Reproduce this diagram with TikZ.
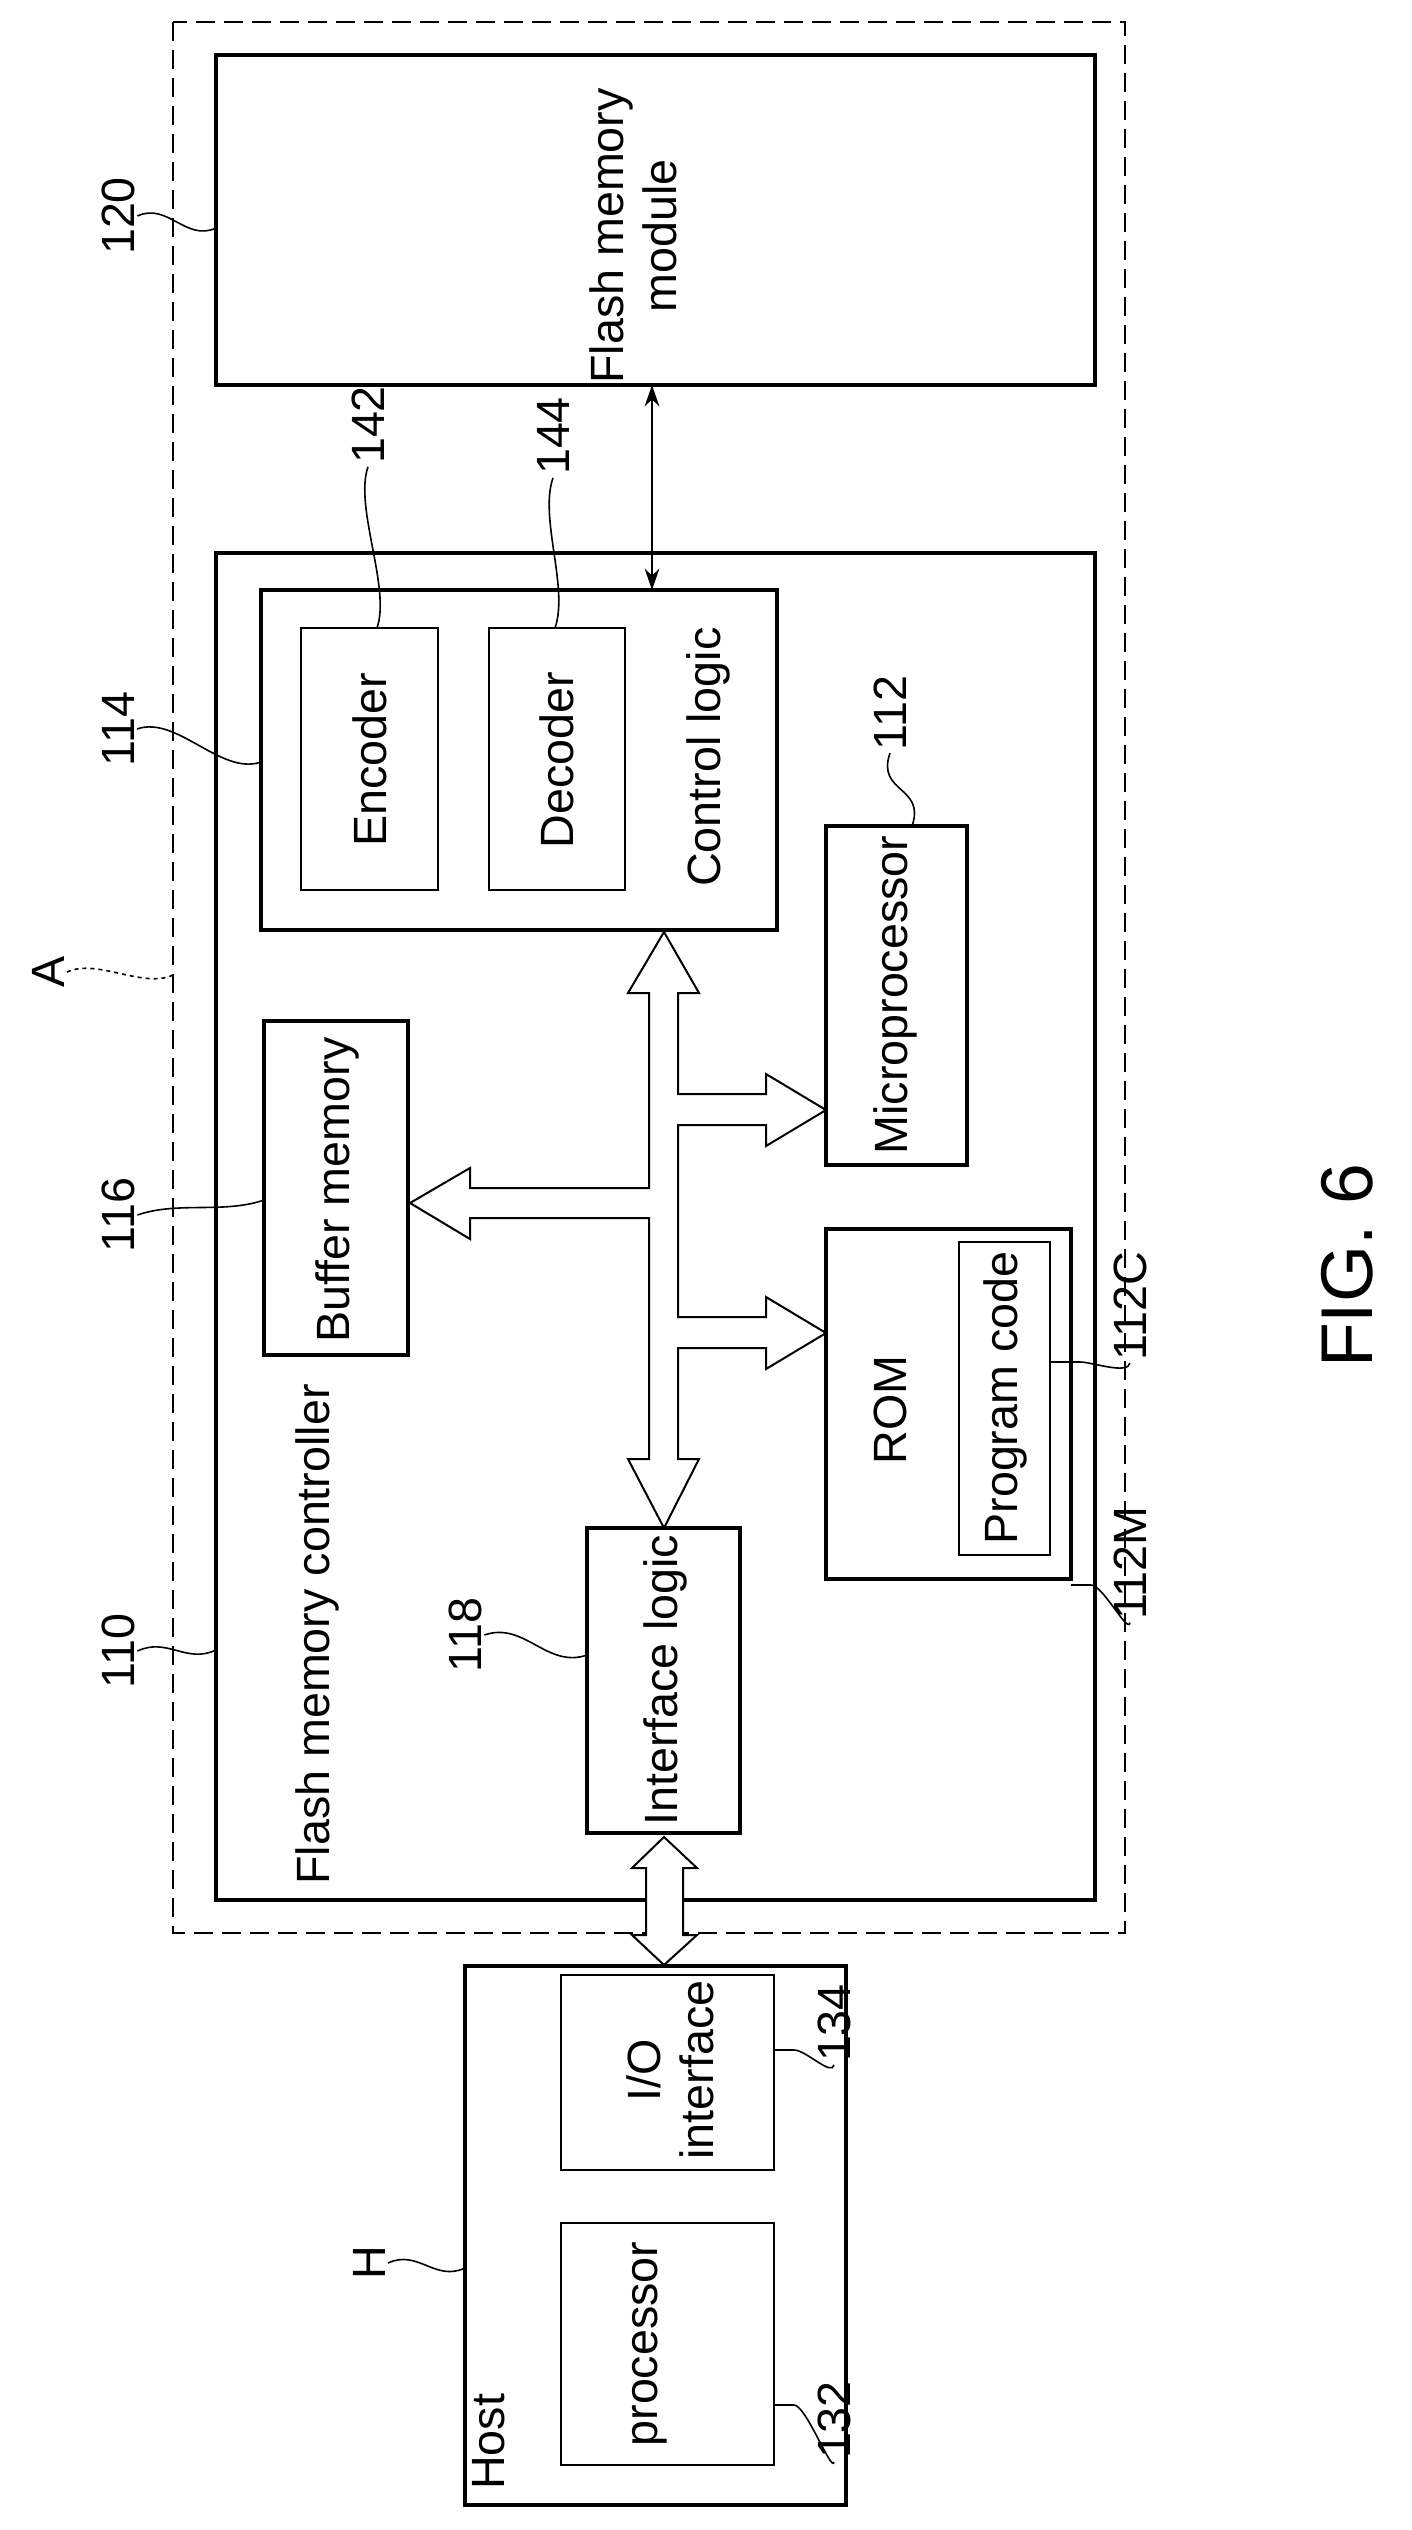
\documentclass[tikz,border=0pt]{standalone}
\usepackage{fontspec}
\setmainfont{Liberation Sans}
\usetikzlibrary{arrows.meta}
\begin{document}
\begin{tikzpicture}[
    x=0.75pt, y=-0.75pt,
    font=\fontsize{35}{40}\selectfont,
    box/.style={draw=black, line width=3pt},
    inbox/.style={draw=black, line width=1.6pt},
    txt/.style={rotate=90, align=center, inner sep=0pt},
    num/.style={rotate=90, inner sep=2pt},
    lead/.style={line width=1.2pt},
    bus/.style={draw=black, fill=white, line width=1.5pt, line join=miter}
]
\useasboundingbox (0,0) rectangle (1411,2530);

% ===== outer dashed device A =====
\draw[dashed, line width=1.1pt, dash pattern=on 14pt off 7pt] (173,22) rectangle (1125,1933);

% ===== flash memory module =====
\draw[box] (216,55) rectangle (1095,385);
\node[txt] (fmm) at (633,236) {Flash memory\\module};

% ===== controller =====
\draw[box] (216,553) rectangle (1095,1900);
\node[txt, anchor=west] (fmc) at (317,1885) {Flash memory controller};

% control logic
\draw[box] (261,590) rectangle (777,930);
\draw[inbox] (301,628) rectangle (438,890);
\draw[inbox] (489,628) rectangle (625,890);
\node[txt] (enc) at (370,760) {Encoder};
\node[txt] (dec) at (557,760) {Decoder};
\node[txt] (ctl) at (708,757) {Control logic};

% buffer, micro, rom, interface
\draw[box] (264,1021) rectangle (408,1355);
\node[txt] (buf) at (337,1190) {Buffer memory};
\draw[box] (826,826) rectangle (967,1165);
\node[txt] (mic) at (895,995) {Microprocessor};
\draw[box] (826,1229) rectangle (1071,1579);
\draw[inbox] (959,1242) rectangle (1050,1555);
\node[txt] (rom) at (890,1410) {ROM};
\node[txt] (prg) at (1005,1398) {Program code};
\draw[box] (587,1528) rectangle (740,1833);
\node[txt] (ifl) at (665,1680) {Interface logic};

% module <-> control logic
\coordinate (m1) at (652,385);
\coordinate (m2) at (652,590);
\draw[line width=1.8pt, {Stealth[length=16pt,width=11pt]}-{Stealth[length=16pt,width=11pt]}] (m1) -- (m2);

% internal bus
\draw[bus] (664,932) -- (699,993) -- (678,993) -- (678,1094) -- (766,1094) -- (766,1074)
  -- (826,1110) -- (766,1146) -- (766,1125) -- (678,1125) -- (678,1317) -- (766,1317)
  -- (766,1297) -- (826,1333) -- (766,1369) -- (766,1348) -- (678,1348) -- (678,1459)
  -- (699,1459) -- (664,1528) -- (628,1459) -- (649,1459) -- (649,1218) -- (470,1218)
  -- (470,1239) -- (410,1203) -- (470,1168) -- (470,1188) -- (649,1188) -- (649,993)
  -- (628,993) -- cycle;

% host link
\draw[bus] (664,1837) -- (697,1868) -- (683,1868) -- (683,1935) -- (697,1935) -- (664,1965)
  -- (632,1935) -- (646,1935) -- (646,1868) -- (632,1868) -- cycle;

% ===== host =====
\draw[box] (465,1966) rectangle (846,2505);
\node[txt, anchor=west] (hst) at (489,2490) {Host};
\draw[inbox] (561,2223) rectangle (774,2465);
\node[txt] (pro) at (650,2344) {processor};
\draw[inbox] (561,1975) rectangle (774,2170);
\node[txt] (io) at (670,2070) {I/O\\interface};

% ===== reference numerals =====
\node[num] (n120) at (118,216) {120};
\node[num] (n114) at (118,729) {114};
\node[num] (n116) at (118,1215) {116};
\node[num] (n110) at (118,1651) {110};
\node[num] (n142) at (368,425) {142};
\node[num] (n144) at (553,436) {144};
\node[num] (n112) at (890,713) {112};
\node[num] (n118) at (465,1635) {118};
\node[num] (n112c) at (1130,1306) {112C};
\node[num] (n112m) at (1130,1563) {112M};
\node[num] (nA) at (48,972) {A};
\node[num] (nH) at (369,2263) {H};
\node[num] (n132) at (834,2420) {132};
\node[num] (n134) at (834,2023) {134};
\node[rotate=90, font=\fontsize{55}{60}\selectfont] (fig) at (1347,1266) {FIG. 6};

\coordinate (t120) at (216,228);
\coordinate (t114) at (261,762);
\coordinate (t116) at (264,1200);
\coordinate (t110) at (216,1650);
\coordinate (t142) at (377,628);
\coordinate (t144) at (555,628);
\coordinate (t112) at (912,826);
\coordinate (t118) at (587,1655);
\coordinate (t112c) at (1050,1362);
\coordinate (t112m) at (1071,1585);
\coordinate (tA) at (173,975);
\coordinate (tH) at (465,2268);
\coordinate (t132) at (774,2405);
\coordinate (t134) at (774,2050);

\draw[lead] (n120.south) .. controls +(30,-14) and +(-30,14) .. (t120);
\draw[lead] (n114.south) .. controls +(40,-14) and +(-40,14) .. (t114);
\draw[lead] (n116.south) .. controls +(40,-14) and +(-40,14) .. (t116);
\draw[lead] (n110.south) .. controls +(30,-14) and +(-30,14) .. (t110);
\draw[lead] (n118.south) .. controls +(40,-14) and +(-40,14) .. (t118);
\draw[lead] (nH.south) .. controls +(30,-14) and +(-30,14) .. (tH);
\draw[lead, dashed] (nA.south) .. controls +(30,-14) and +(-30,14) .. (tA);
\draw[lead] (n142.west) .. controls +(-14,40) and +(14,-40) .. (t142);
\draw[lead] (n144.west) .. controls +(-14,40) and +(14,-40) .. (t144);
\draw[lead] (n112.west) .. controls +(-14,40) and +(14,-40) .. (t112);
\draw[lead] (t112c) -- ++(30,0) .. controls +(12,0) and +(-2,12) .. (n112c.west);
\draw[lead] (t112m) -- ++(20,0) .. controls +(12,0) and +(-2,12) .. (n112m.west);
\draw[lead] (t132) -- ++(20,0) .. controls +(12,0) and +(-2,12) .. (n132.west);
\draw[lead] (t134) -- ++(20,0) .. controls +(12,0) and +(-2,12) .. (n134.west);

\end{tikzpicture}
\end{document}
